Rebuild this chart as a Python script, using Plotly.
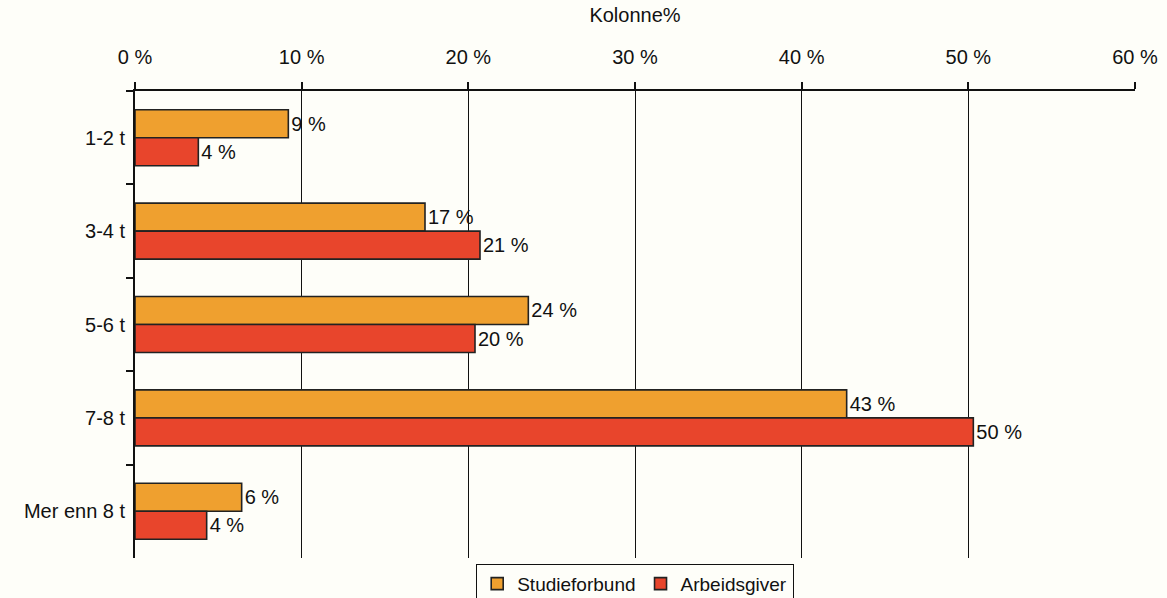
import plotly.graph_objects as go

categories = ["1-2 t", "3-4 t", "5-6 t", "7-8 t", "Mer enn 8 t"]
studieforbund = [9.2, 17.4, 23.6, 42.7, 6.4]
arbeidsgiver = [3.8, 20.7, 20.4, 50.3, 4.3]
series_names = ["Studieforbund", "Arbeidsgiver"]
x_ticks = [0, 10, 20, 30, 40, 50, 60]
grid_ticks = [10, 20, 30, 40, 50]

FONT = "Liberation Sans, Arial, sans-serif"
ORANGE = "#EFA02F"
RED = "#E8452C"
BG = "#FEFEF9"

fig = go.Figure()
for name, vals, col in [(series_names[0], studieforbund, ORANGE),
                        (series_names[1], arbeidsgiver, RED)]:
    fig.add_trace(go.Bar(
        y=categories, x=vals, name=name, orientation="h",
        marker=dict(color=col, line=dict(color="#222222", width=1.6)),
        text=vals, texttemplate="%{x:.0f} %", textposition="outside",
        textfont=dict(family=FONT, size=20, color="#111111"),
        cliponaxis=False,
    ))

# invisible trace to carry the gridline axis
fig.add_trace(go.Scatter(x=[0], y=[categories[0]], xaxis="x2", mode="markers",
                         marker=dict(opacity=0), showlegend=False, hoverinfo="skip"))

fig.update_layout(
    width=1167, height=598,
    margin=dict(l=135, r=32, t=91, b=40, autoexpand=False),
    paper_bgcolor=BG, plot_bgcolor=BG,
    barmode="group", bargap=0.4, bargroupgap=0,
    font=dict(family=FONT, size=19, color="#111111"),
    xaxis=dict(
        side="top", range=[0, 60], tickvals=x_ticks,
        ticktext=[f"{v} %" for v in x_ticks],
        ticks="outside", ticklen=7, tickwidth=1.5, tickcolor="#111111",
        showline=True, linecolor="#111111", linewidth=1.8,
        showgrid=False, zeroline=False,
        tickfont=dict(family=FONT, size=20, color="#111111"),
        ticklabelstandoff=10,
        title=dict(text="Kolonne%", font=dict(family=FONT, size=20, color="#111111"), standoff=18),
    ),
    xaxis2=dict(
        overlaying="x", matches="x", range=[0, 60], side="bottom",
        tickvals=grid_ticks, showticklabels=False, ticks="",
        showgrid=True, gridcolor="#111111", gridwidth=1.2,
        showline=False, zeroline=False,
    ),
    yaxis=dict(
        autorange="reversed", tickson="boundaries",
        ticks="outside", ticklen=7, tickwidth=1.5, tickcolor="#111111",
        showline=True, linecolor="#111111", linewidth=1.8,
        showgrid=False, zeroline=False,
        tickfont=dict(family=FONT, size=20, color="#111111"),
        ticklabelstandoff=4,
    ),
    legend=dict(
        orientation="h", x=0.5, xanchor="center", y=-0.012, yanchor="top",
        bordercolor="#111111", borderwidth=1.2, bgcolor=BG,
        font=dict(family=FONT, size=19, color="#111111"),
        itemwidth=30, tracegroupgap=0,
    ),
    showlegend=True,
)

fig.write_html("out.html", config={"displayModeBar": False},
               post_script="document.body.style.margin='0';")
